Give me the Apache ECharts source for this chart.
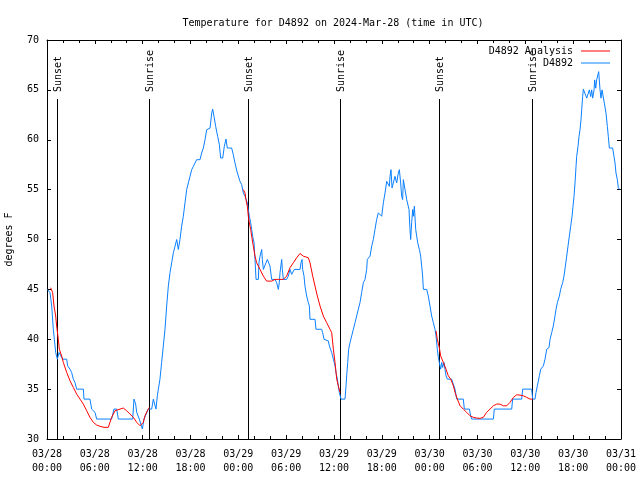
<!DOCTYPE html>
<html><head><meta charset="utf-8">
<script src="https://cdn.jsdelivr.net/npm/echarts@6/dist/echarts.min.js"></script>
<style>html,body{margin:0;padding:0;background:#fff}#c{width:640px;height:480px}</style>
</head><body><div id="c"></div>
<script>
// ---- data (hours since 2024-03-28 00:00 UTC, degrees F) ----
const blueHours = [0.04,0.38,0.59,0.79,0.92,1.09,1.30,1.51,1.76,1.97,2.47,2.59,2.89,3.09,3.30,3.51,3.72,4.56,4.64,5.39,5.60,6.02,6.23,8.11,8.40,8.74,8.95,10.75,10.91,11.12,11.25,11.58,11.79,11.96,12.17,12.42,12.71,13.13,13.34,13.55,13.67,13.84,13.97,14.17,14.38,14.59,14.80,15.01,15.22,15.43,15.64,15.85,16.06,16.27,16.47,16.68,16.89,17.10,17.31,17.52,17.73,17.94,18.15,18.36,18.77,19.19,19.40,19.61,19.82,20.03,20.45,20.66,20.78,20.95,21.16,21.41,21.62,21.78,22.04,22.24,22.45,22.62,23.16,
23.37,23.58,23.88,24.21,24.42,24.63,24.84,25.13,25.25,25.38,25.55,25.67,25.80,25.97,26.09,26.22,26.51,26.59,26.72,26.93,27.01,27.14,27.35,27.47,27.64,27.85,27.97,28.18,28.60,28.81,29.02,29.14,29.23,29.44,29.52,29.65,30.06,30.27,30.48,30.69,30.90,31.02,31.74,31.86,31.99,32.07,32.24,32.36,32.57,32.78,32.91,32.99,33.62,33.74,34.45,34.58,34.75,35.29,35.42,35.71,35.92,36.13,36.25,36.42,36.54,36.67,36.88,37.38,37.51,37.59,37.72,37.84,38.01,38.22,38.43,38.64,38.84,39.05,39.26,39.47,39.68,39.89,40.10,40.18,40.52,40.73,40.93,41.14,41.35,41.56,41.77,41.98,42.19,42.40,42.61,42.82,42.94,43.03,43.15,43.28,43.44,43.65,43.86,44.07,44.20,44.36,44.49,44.61,44.70,44.91,45.12,45.33,45.41,45.53,45.62,45.74,45.87,45.95,46.08,46.25,46.37,46.50,46.71,46.87,47.00,47.12,47.21,47.63,
47.83,48.04,48.25,48.46,48.67,48.80,48.96,49.09,49.21,49.38,49.51,49.63,49.80,49.92,50.05,50.22,50.76,50.89,51.18,51.39,52.22,52.35,52.98,53.14,53.27,55.99,56.11,58.29,58.41,59.54,59.67,60.80,60.92,61.21,61.34,61.51,61.76,61.93,62.26,62.47,62.68,62.97,63.10,63.31,63.51,63.72,63.85,64.02,64.27,64.43,64.68,64.85,65.02,65.19,65.35,65.52,65.69,65.86,65.98,66.11,66.23,66.36,66.44,66.61,66.73,66.86,66.98,67.07,67.19,67.28,67.49,67.70,67.90,68.03,68.20,68.32,68.45,68.62,68.70,68.83,68.95,69.20,69.28,69.37,69.49,69.62,69.79,69.91,70.12,70.29,70.41,70.54,70.95,71.12,71.25,71.37,71.54,71.67,71.88];
const blueTemps = [45.0,44.67,43.33,41.0,40.0,38.67,38.0,38.67,38.5,38.0,38.0,37.33,37.0,36.67,36.0,35.67,35.0,35.0,34.0,34.0,33.0,32.67,32.0,32.0,33.0,33.0,32.0,32.0,34.0,33.5,32.67,32.0,31.83,31.0,32.0,32.0,33.0,33.0,34.0,34.0,33.0,34.33,35.0,36.0,37.67,39.33,41.0,43.33,45.33,46.67,47.67,48.67,49.33,50.0,49.0,50.0,51.33,52.33,53.67,55.0,55.67,56.33,57.0,57.33,58.0,58.0,58.67,59.17,60.0,61.0,61.17,62.67,63.07,62.33,61.33,60.33,59.5,58.17,58.17,59.33,60.07,59.17,59.17,
58.5,57.67,56.67,55.83,55.5,54.67,54.33,53.67,53.0,52.33,51.67,51.0,50.33,49.67,48.0,46.0,46.0,47.67,48.33,49.0,48.0,47.0,47.0,47.67,48.0,48.0,47.33,46.0,46.0,45.67,45.0,45.67,46.67,48.0,47.0,46.0,46.0,46.33,47.0,46.5,46.33,47.0,47.0,47.67,48.0,47.0,46.33,45.33,44.33,43.67,43.33,42.0,42.0,41.0,41.0,40.67,40.0,39.83,39.33,38.67,38.0,37.33,36.67,36.0,35.33,34.67,34.0,34.0,35.33,36.33,37.67,39.0,39.67,40.33,41.0,41.67,42.33,43.0,43.67,44.67,45.67,46.0,47.0,48.0,48.33,49.33,50.0,51.0,52.0,52.67,52.83,52.33,53.67,54.67,55.83,56.0,55.33,56.33,57.0,55.17,55.67,56.33,55.67,56.67,57.0,55.67,54.33,54.0,56.0,55.83,54.0,54.0,53.0,51.0,50.0,51.67,53.0,52.33,53.33,51.0,50.33,49.67,49.0,48.33,47.33,46.33,45.0,45.0,
44.33,43.33,42.33,41.67,41.0,40.33,39.0,38.17,37.67,37.0,37.67,37.17,37.67,37.0,36.33,36.0,36.0,35.67,35.0,34.0,34.0,33.0,33.0,32.33,32.0,32.0,33.0,33.0,34.0,34.0,35.0,35.0,34.0,34.0,34.67,35.33,36.33,37.0,37.33,38.0,39.0,39.17,40.0,40.67,41.33,42.33,43.0,43.67,44.33,45.0,45.67,46.33,47.33,48.33,49.33,50.33,51.33,52.33,53.33,54.33,55.67,57.33,58.33,59.33,60.33,61.0,62.0,63.0,64.33,65.07,65.07,64.17,64.17,65.0,64.33,65.0,64.17,65.0,66.0,65.17,66.0,66.83,67.0,65.0,64.17,65.0,65.0,63.67,62.67,61.33,60.33,59.17,59.17,58.33,57.67,56.67,56.0,55.17,55.0];

const redHours = [0.46,0.71,0.88,1.09,1.21,1.42,1.55,1.84,2.05,2.47,2.89,3.30,3.72,4.14,4.56,4.98,5.39,5.81,6.23,6.65,7.15,7.69,8.11,8.53,9.16,9.58,9.99,10.41,10.83,11.25,11.67,11.87,12.08,12.29,12.59,12.84,null,
24.63,24.84,24.96,25.13,25.25,25.38,25.55,25.67,25.88,26.09,26.30,26.72,27.14,27.55,27.76,28.18,28.60,29.02,29.65,30.06,30.48,30.90,31.32,31.74,32.15,32.78,32.99,33.33,33.62,33.91,34.25,34.66,35.08,35.50,35.71,35.92,36.13,36.34,36.54,36.75,null,
48.80,48.96,49.21,49.38,49.72,50.05,50.34,50.64,50.97,51.18,51.47,51.81,52.22,52.64,53.06,53.48,53.90,54.32,54.73,55.15,55.57,55.99,56.41,56.82,57.24,57.66,58.08,58.50,58.91,59.33,59.75,60.17,60.59,60.92];
const redTemps = [45.17,44.67,43.33,42.33,41.33,40.0,39.0,38.33,37.67,36.67,35.83,35.17,34.5,34.0,33.5,32.83,32.17,31.67,31.4,31.27,31.17,31.17,32.17,32.83,33.0,33.1,32.83,32.5,32.17,31.67,31.33,31.17,31.67,32.33,32.83,33.17,null,
55.0,54.67,54.0,53.33,52.33,51.67,51.0,50.33,49.33,48.33,47.67,47.0,46.33,45.83,45.67,45.83,46.0,46.0,46.0,46.33,47.17,47.67,48.17,48.6,48.33,48.17,47.67,46.33,45.33,44.33,43.33,42.33,41.67,41.0,40.67,39.0,37.67,36.0,35.33,34.67,null,
40.83,40.0,39.17,38.33,37.67,37.0,36.33,36.0,35.33,34.67,34.0,33.33,33.0,32.67,32.33,32.17,32.1,32.07,32.17,32.67,33.0,33.33,33.5,33.5,33.33,33.33,33.67,34.17,34.43,34.4,34.33,34.17,34.0,34.0];

const sunTimes = [1.2, 12.83, 25.25, 36.75, 49.2, 60.88];
const sunNames = ['Sunset','Sunrise','Sunset','Sunrise','Sunset','Sunrise'];

const xTickLabels = ['03/28\n00:00','03/28\n06:00','03/28\n12:00','03/28\n18:00','03/29\n00:00','03/29\n06:00','03/29\n12:00','03/29\n18:00','03/30\n00:00','03/30\n06:00','03/30\n12:00','03/30\n18:00','03/31\n00:00'];
const yTickValues = [30,35,40,45,50,55,60,65,70];

const titleText = 'Temperature for D4892 on 2024-Mar-28 (time in UTC)';
const yName = 'degrees F';
const redName = 'D4892 Analysis';
const blueName = 'D4892';

// ---- chart ----
const FONT = 'DejaVu Sans Mono';
const FS = 10;
const blueData = blueHours.map((h, i) => [h, blueTemps[i]]);
const redData = redHours.map((h, i) => (redTemps[i] === null ? ['-', '-'] : [h, redTemps[i]]));

const xMin = 0, xMax = 72, xStep = 6;
const yMin = yTickValues[0], yMax = yTickValues[yTickValues.length - 1], yStep = yTickValues[1] - yTickValues[0];

const axisCommon = {
  axisLine: { show: true, onZero: false, lineStyle: { color: '#000', width: 1 } },
  axisTick: { show: true, inside: true, length: 4, lineStyle: { color: '#000', width: 1 } },
  splitLine: { show: false }
};

const chart = echarts.init(document.getElementById('c'), null, { renderer: 'canvas' });
chart.setOption({
  animation: false,
  backgroundColor: '#fff',
  textStyle: { fontFamily: FONT, fontSize: FS, color: '#000' },
  title: {
    text: titleText, left: 328, top: 13, textAlign: 'center',
    textStyle: { fontFamily: FONT, fontSize: FS, fontWeight: 'normal', color: '#000' }
  },
  legend: {
    orient: 'vertical', right: 25, top: 41, align: 'right',
    icon: 'rect', itemWidth: 29, itemHeight: 1, itemGap: 2,
    textStyle: { fontFamily: FONT, fontSize: FS, color: '#000', padding: [0, 3, 0, 0] },
    data: [redName, blueName]
  },
  grid: { left: 47, right: 19, top: 40, bottom: 41, containLabel: false, outerBoundsMode: 'none' },
  xAxis: [
    Object.assign({}, axisCommon, {
      type: 'value', position: 'bottom', min: xMin, max: xMax, interval: xStep,
      minorTick: { show: true, splitNumber: 3, length: 3, lineStyle: { color: '#000', width: 1 } },
      axisLabel: {
        margin: 8, lineHeight: 14, fontFamily: FONT, fontSize: FS, color: '#000',
        formatter: v => xTickLabels[Math.round((v - xMin) / xStep)]
      }
    }),
    Object.assign({}, axisCommon, {
      type: 'value', position: 'top', min: xMin, max: xMax, interval: xStep,
      minorTick: { show: true, splitNumber: 3, length: 3, lineStyle: { color: '#000', width: 1 } },
      axisLabel: { show: false }
    })
  ],
  yAxis: [
    Object.assign({}, axisCommon, {
      type: 'value', position: 'left', min: yMin, max: yMax, interval: yStep,
      name: yName, nameLocation: 'middle', nameGap: 33, nameRotate: 90,
      nameTextStyle: { fontFamily: FONT, fontSize: FS, color: '#000' },
      axisLabel: { margin: 8, fontFamily: FONT, fontSize: FS, color: '#000' }
    }),
    Object.assign({}, axisCommon, {
      type: 'value', position: 'right', min: yMin, max: yMax, interval: yStep,
      axisLabel: { show: false }
    })
  ],
  series: [
    {
      type: 'custom', silent: true, z: 1,
      data: sunTimes.map(t => [t]),
      encode: { x: 0 },
      renderItem: (params, api) => {
        const cs = params.coordSys;
        const x = Math.round(api.coord([api.value(0), yMin])[0]) + 0.5;
        const top = cs.y + 59;
        return {
          type: 'group',
          children: [
            { type: 'line', shape: { x1: x, y1: top, x2: x, y2: cs.y + cs.height },
              style: { stroke: '#000', lineWidth: 1 } },
            { type: 'text', x: x + 1, y: top - 7, rotation: Math.PI / 2,
              style: { text: sunNames[params.dataIndex], fill: '#000',
                       font: FS + 'px "' + FONT + '"', align: 'left', verticalAlign: 'middle' } }
          ]
        };
      }
    },
    {
      name: blueName, type: 'line', data: blueData, showSymbol: false, symbol: 'none',
      lineStyle: { color: '#0a80ff', width: 1 }, itemStyle: { color: '#0a80ff' }, z: 3
    },
    {
      name: redName, type: 'line', data: redData, showSymbol: false, symbol: 'none', connectNulls: false,
      lineStyle: { color: '#ff0000', width: 1 }, itemStyle: { color: '#ff0000' }, z: 4
    }
  ]
});
</script>
</body></html>
